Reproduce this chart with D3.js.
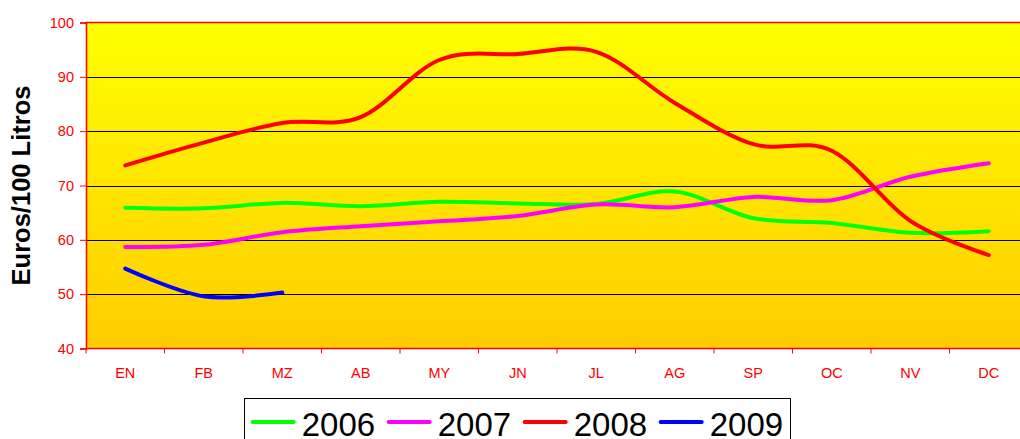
<!DOCTYPE html>
<html>
<head>
<meta charset="utf-8">
<script src="https://cdn.jsdelivr.net/npm/d3@7"></script>
<style>
  html, body { margin: 0; padding: 0; background: #fff; overflow: hidden; }
  svg { display: block; font-family: "Liberation Sans", Arial, sans-serif; }
</style>
</head>
<body>
<svg id="chart" width="1020" height="439"></svg>
<script>
// Monthly price, euros per 100 litres
const months = ["EN", "FB", "MZ", "AB", "MY", "JN", "JL", "AG", "SP", "OC", "NV", "DC"];
const years = ["2006", "2007", "2008", "2009"];
const colors = ["#00FF00", "#FF00FF", "#FF0000", "#0000FF"];
const values2006 = [65.9, 65.8, 66.8, 66.2, 67.0, 66.7, 66.6, 68.9, 64.0, 63.1, 61.3, 61.6];
const values2007 = [58.7, 59.1, 61.4, 62.5, 63.4, 64.4, 66.5, 66.0, 67.9, 67.3, 71.6, 74.1];
const values2008 = [73.7, 77.9, 81.5, 82.6, 93.1, 94.2, 94.6, 85.2, 77.6, 76.4, 63.5, 57.2];
const values2009 = [54.7, 49.6, 50.3];
const yTicks = [40, 50, 60, 70, 80, 90, 100];

const series = [values2006, values2007, values2008, values2009];

const svg = d3.select("#chart");
const plot = { left: 86, top: 22.5, width: 942, height: 326 };

const x = d3.scaleBand().domain(months).range([plot.left, plot.left + plot.width]);
const y = d3.scaleLinear().domain([40, 100]).range([plot.top + plot.height, plot.top]);

// Background gradient of the plotting area
const defs = svg.append("defs");
const grad = defs.append("linearGradient").attr("id", "bg").attr("x1", 0).attr("y1", 0).attr("x2", 0).attr("y2", 1);
grad.append("stop").attr("offset", "0%").attr("stop-color", "#FFFF00");
grad.append("stop").attr("offset", "100%").attr("stop-color", "#FFCC00");

svg.append("rect")
  .attr("x", plot.left).attr("y", plot.top)
  .attr("width", plot.width).attr("height", plot.height)
  .attr("fill", "url(#bg)");

// Horizontal gridlines
svg.append("g")
  .selectAll("line")
  .data(yTicks.filter(t => t > 40 && t < 100))
  .join("line")
  .attr("x1", plot.left).attr("x2", plot.left + plot.width)
  .attr("y1", d => Math.round(y(d)) + 0.5).attr("y2", d => Math.round(y(d)) + 0.5)
  .attr("stroke", "#000").attr("stroke-width", 1);

// Top border
svg.append("line")
  .attr("x1", plot.left).attr("x2", plot.left + plot.width)
  .attr("y1", plot.top).attr("y2", plot.top)
  .attr("stroke", "#FF0000").attr("stroke-width", 1.5);

// Y axis
const yAxis = svg.append("g")
  .attr("transform", `translate(${plot.left},0)`)
  .call(d3.axisLeft(y).tickValues(yTicks).tickSize(6).tickPadding(6));
yAxis.select(".domain").attr("stroke", "#FF0000").attr("stroke-width", 1.5);
yAxis.selectAll(".tick line").attr("stroke", "#FF0000");
yAxis.selectAll(".tick text")
  .attr("fill", "#FF0000").attr("font-size", "14.5px")
  .attr("font-family", "Liberation Sans, Arial, sans-serif");

// X axis: ticks at band boundaries, labels at band centres
const xAxis = svg.append("g")
  .attr("transform", `translate(0,${plot.top + plot.height})`);
xAxis.append("line")
  .attr("x1", plot.left).attr("x2", plot.left + plot.width)
  .attr("stroke", "#FF0000").attr("stroke-width", 1.5);
xAxis.selectAll("line.tk")
  .data(months)
  .join("line")
  .attr("class", "tk")
  .attr("x1", d => x(d)).attr("x2", d => x(d))
  .attr("y1", 0).attr("y2", 5)
  .attr("stroke", "#FF0000");
xAxis.selectAll("text")
  .data(months)
  .join("text")
  .attr("x", d => x(d) + x.bandwidth() / 2)
  .attr("y", 29)
  .attr("text-anchor", "middle")
  .attr("fill", "#FF0000")
  .attr("font-size", "14.5px")
  .text(d => d);

// Y axis title
svg.append("text")
  .attr("transform", "translate(30,185.5) rotate(-90)")
  .attr("text-anchor", "middle")
  .attr("font-weight", "bold")
  .attr("font-size", "25.5px")
  .attr("fill", "#000")
  .text("Euros/100 Litros");

// Smoothed lines
const line = d3.line()
  .x((d, i) => x(months[i]) + x.bandwidth() / 2)
  .y(d => y(d))
  .curve(d3.curveCatmullRom.alpha(0));

svg.append("g")
  .selectAll("path")
  .data(series)
  .join("path")
  .attr("d", d => line(d))
  .attr("fill", "none")
  .attr("stroke", (d, i) => colors[i])
  .attr("stroke-width", 4)
  .attr("stroke-linecap", "round")
  .attr("stroke-linejoin", "round");

// Legend
const legend = svg.append("g");
legend.append("rect")
  .attr("x", 244.5).attr("y", 398.5)
  .attr("width", 546).attr("height", 60)
  .attr("fill", "#fff").attr("stroke", "#000").attr("stroke-width", 1);

const item = legend.selectAll("g.item")
  .data(years)
  .join("g")
  .attr("class", "item")
  .attr("transform", (d, i) => `translate(${252.7 + i * 136},0)`);
item.append("line")
  .attr("x1", 0).attr("x2", 41)
  .attr("y1", 422).attr("y2", 422)
  .attr("stroke", (d, i) => colors[i])
  .attr("stroke-width", 4)
  .attr("stroke-linecap", "round");
item.append("text")
  .attr("x", 49).attr("y", 436)
  .attr("font-size", "33px")
  .attr("fill", "#000")
  .text(d => d);
</script>
</body>
</html>
